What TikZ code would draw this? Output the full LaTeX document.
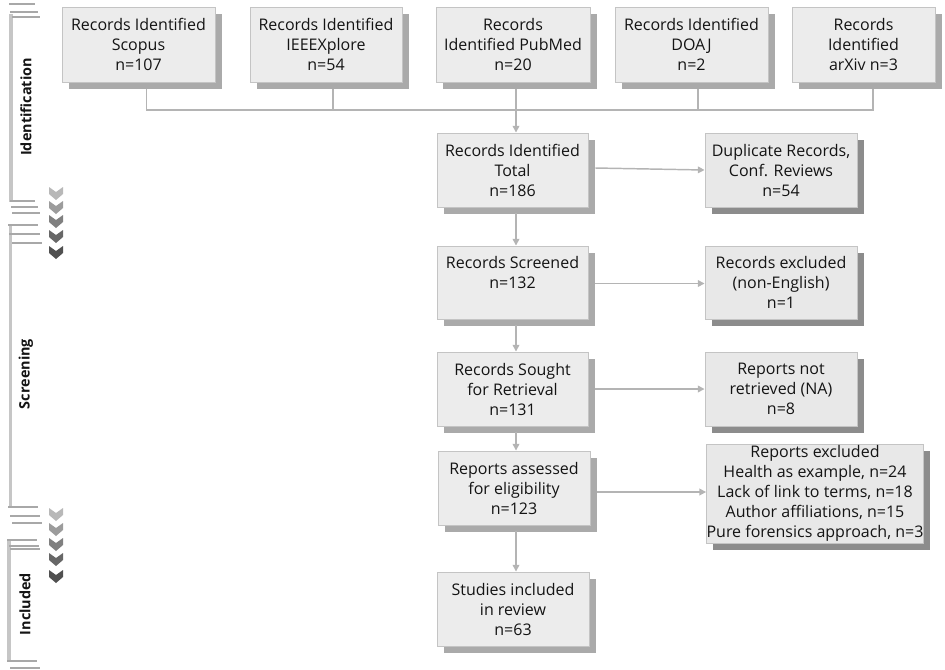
\documentclass[tikz,border=0pt]{standalone}
\usepackage{fontspec}
\setmainfont{Open Sans}
\usetikzlibrary{arrows.meta,calc,shadows}
\definecolor{boxfill}{HTML}{ECECEC}
\definecolor{boxfillR}{HTML}{E8E8E8}
\definecolor{boxline}{HTML}{C4C4C4}
\definecolor{shadowL}{HTML}{AAAAAA}
\definecolor{shadowD}{HTML}{8C8C8C}
\definecolor{conncol}{HTML}{B4B4B4}
\definecolor{txt}{HTML}{141414}
\definecolor{barcol}{HTML}{C6C6C6}
\definecolor{brkcol}{HTML}{A8A8A8}
\definecolor{chA}{HTML}{B8B8B8}
\definecolor{chB}{HTML}{9C9C9C}
\definecolor{chC}{HTML}{808080}
\definecolor{chD}{HTML}{676767}
\definecolor{chE}{HTML}{505050}
\def\pxu{0.75pt}
\newcommand\mychev[3]{\fill[#3] (#1-7,#2) -- (#1,#2+5) -- (#1+7,#2) -- (#1+7,#2+7) -- (#1,#2+13) -- (#1-7,#2+7) -- cycle;}
\tikzset{
  boxbase/.style={draw=boxline, line width=0.7pt, fill=boxfill, align=center, text=txt,
    inner sep=0pt, font=\fontsize{12}{15}\selectfont},
  box/.style={boxbase, drop shadow={shadow xshift=5pt, shadow yshift=-5pt, fill=shadowL, opacity=1}},
  boxR/.style={boxbase, fill=boxfillR, drop shadow={shadow xshift=5pt, shadow yshift=-5pt, fill=shadowD, opacity=1}},
  sz/.style 2 args={minimum width=#1*\pxu, minimum height=#2*\pxu},
  conn/.style={draw=conncol, line width=1.1pt},
  arr/.style={conn, -{Triangle[length=5pt,width=5pt]}},
  brkbar/.style={draw=barcol, line width=2.8pt},
  brkline/.style={draw=brkcol, line width=1.1pt},
  phase/.style={rotate=90, font=\fontsize{10.8}{13}\selectfont\bfseries, text=txt}
}
\begin{document}
\begin{tikzpicture}[x=0.75pt,y=-0.75pt]
\useasboundingbox (0,0) rectangle (945,669);

% phase brackets
\draw[brkbar] (11,14) -- (11,202);
\draw[brkline] (9,4) -- (35,4) (10,12) -- (38,12) (12,17) -- (40,17);
\draw[brkline] (10,201) -- (35,201) (11,207) -- (38,207) (12,213) -- (40,213);
\draw[brkbar] (10.5,226) -- (10.5,507);
\draw[brkline] (8,225) -- (38,225) (9,234) -- (40,234) (12,243) -- (42,243);
\draw[brkline] (8,507) -- (38,507) (10,516) -- (40,516) (12,523) -- (42,523);
\draw[brkbar] (9,541) -- (9,662);
\draw[brkline] (7,540) -- (37,540) (9,546) -- (39,546) (10,549) -- (40,549);
\draw[brkline] (7,661) -- (37,661) (10,668) -- (40,668);

\node[phase] (lid) at (26,107) {Identification};
\node[phase] (lsc) at (26,374) {Screening};
\node[phase] (lin) at (25,604) {Included};

% chevrons
\mychev{56}{187}{chA}
\mychev{56}{201}{chB}
\mychev{56}{215}{chC}
\mychev{56}{230}{chD}
\mychev{56}{246}{chE}
\mychev{56}{508}{chA}
\mychev{56}{523}{chB}
\mychev{56}{538}{chC}
\mychev{56}{553}{chD}
\mychev{56}{570}{chE}

% top row
\node[box, sz={153}{75}] (scopus) at (138.5,44.5) {Records Identified\\Scopus\\n=107};
\node[box, sz={152}{75}] (ieee) at (326,44.5) {Records Identified\\IEEEXplore\\n=54};
\node[box, sz={154}{75}] (pubmed) at (513,44.5) {Records\\Identified PubMed\\n=20};
\node[box, sz={153}{75}] (doaj) at (691.5,44.5) {Records Identified\\DOAJ\\n=2};
\node[box, sz={143}{75}] (arxiv) at (863.5,44.5) {Records\\Identified\\arXiv n=3};

% middle column
\node[box, sz={151}{74}] (total) at (512.5,170) {Records Identified\\Total\\n=186};
\node[box, sz={151}{73}] (screened) at (512.5,282.5) {Records Screened\\n=132\\\phantom{n}};
\node[box, sz={151}{74}] (sought) at (512.5,389) {Records Sought\\for Retrieval\\n=131};
\node[box, sz={152}{74}] (elig) at (514,488) {Reports assessed\\for eligibility\\n=123};
\node[box, sz={152}{74}] (incl) at (513,609) {Studies included\\in review\\n=63};

% right column
\node[boxR, sz={152}{74}] (dup) at (781,170) {Duplicate Records,\\Conf. Reviews\\n=54};
\node[boxR, sz={152}{73}] (nonen) at (781,282.5) {Records excluded\\(non-English)\\n=1};
\node[boxR, sz={152}{74}] (notret) at (781,389) {Reports not\\retrieved (NA)\\n=8};
\node[boxR, sz={216}{99}] (excl) at (815,493.5) {Reports excluded\\Health as example, n=24\\Lack of link to terms, n=18\\Author affiliations, n=15\\Pure forensics approach, n=3};

% connectors top
\coordinate (busy) at (0,110);
\coordinate (sc) at ($(scopus.south)+(8,7)$);
\coordinate (ie) at ($(ieee.south)+(7,7)$);
\coordinate (pm) at ($(pubmed.south)+(3,7)$);
\coordinate (dj) at ($(doaj.south)+(6.5,7)$);
\coordinate (ax) at ($(arxiv.south)+(9.5,7)$);
\draw[conn] (sc) |- (ax |- busy) -- (ax);
\draw[conn] (ie) -- (ie |- busy);
\draw[conn] (dj) -- (dj |- busy);
\draw[arr] (pm) -- (pm |- total.north);

% vertical arrows
\draw[arr] ($(total.south)+(3.5,6)$) -- ($(screened.north)+(3.5,0)$);
\draw[arr] ($(screened.south)+(3.5,6)$) -- ($(sought.north)+(3.5,0)$);
\draw[arr] ($(sought.south)+(3.5,6)$) -- ($(elig.north)+(2,0)$);
\draw[arr] ($(elig.south)+(2,6)$) -- ($(incl.north)+(3,0)$);

% horizontal arrows
\draw[arr] ($(total.east)+(7,-2)$) -- (dup.west);
\draw[arr] ($(screened.east)+(7,1)$) -- ($(nonen.west)+(0,1)$);
\draw[arr] ($(sought.east)+(7,0)$) -- (notret.west);
\draw[arr] ($(elig.east)+(7,4)$) -- ($(excl.west)+(0,-1.5)$);
\end{tikzpicture}
\end{document}
